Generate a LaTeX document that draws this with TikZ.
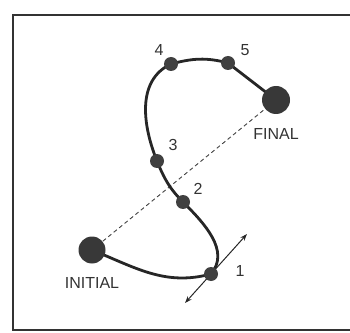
\documentclass[tikz,border=0pt]{standalone}
\usepackage{fontspec}
\setmainfont{Liberation Sans}
\usetikzlibrary{arrows.meta}
\begin{document}
\begin{tikzpicture}[x=1pt,y=1pt,
  big/.style={circle,fill=black!78,minimum size=27pt,inner sep=0pt},
  small/.style={circle,fill=black!75,minimum size=14pt,inner sep=0pt},
  lbl/.style={font=\fontsize{16}{18}\selectfont,text=black!80,inner sep=0pt},
  pathline/.style={line width=2.8pt,black!85,line cap=round},
  dashline/.style={line width=0.9pt,black!75,dash pattern=on 4pt off 3pt},
  frameline/.style={line width=1.1pt,black!80}]
\useasboundingbox (0,0) rectangle (350,332);
\coordinate (tl) at (13,317);
\coordinate (tr) at (350,317);
\coordinate (bl) at (13,2);
\coordinate (br) at (350,2);
\draw[frameline] (tr) -- (tl) -- (bl) -- (br);
\coordinate (ini) at (92,82);
\coordinate (fin) at (276,232);
\coordinate (c1) at (211,58);
\coordinate (c2) at (183,130);
\coordinate (c3) at (157,171);
\coordinate (c4) at (171,268);
\coordinate (c5) at (228,269);
\draw[dashline] (ini) -- (fin);
\draw[pathline] (ini) to[out=-22,in=195] (c1)
  to[out=50,in=-45] (c2)
  to[out=135,in=-68] (c3)
  to[out=112,in=205] (c4)
  to[out=15,in=165] (c5)
  -- (fin);
\coordinate (a1) at (185,29);
\coordinate (a2) at (247,98);
\draw[line width=1pt,black!85,{Stealth[length=7pt,width=5pt]}-{Stealth[length=7pt,width=5pt]}] (a1) -- (a2);
\node[big] (initial) at (ini) {};
\node[big,minimum size=28pt] (final) at (fin) {};
\node[small] (p1) at (c1) {};
\node[small] (p2) at (c2) {};
\node[small] (p3) at (c3) {};
\node[small] (p4) at (c4) {};
\node[small] (p5) at (c5) {};
\node[lbl] (l1) at (240,61) {1};
\node[lbl] (l2) at (198,143) {2};
\node[lbl] (l3) at (173,187) {3};
\node[lbl] (l4) at (159,282) {4};
\node[lbl] (l5) at (245,282) {5};
\node[lbl] (lf) at (276,198) {FINAL};
\node[lbl] (li) at (92,49) {INITIAL};
\end{tikzpicture}
\end{document}
